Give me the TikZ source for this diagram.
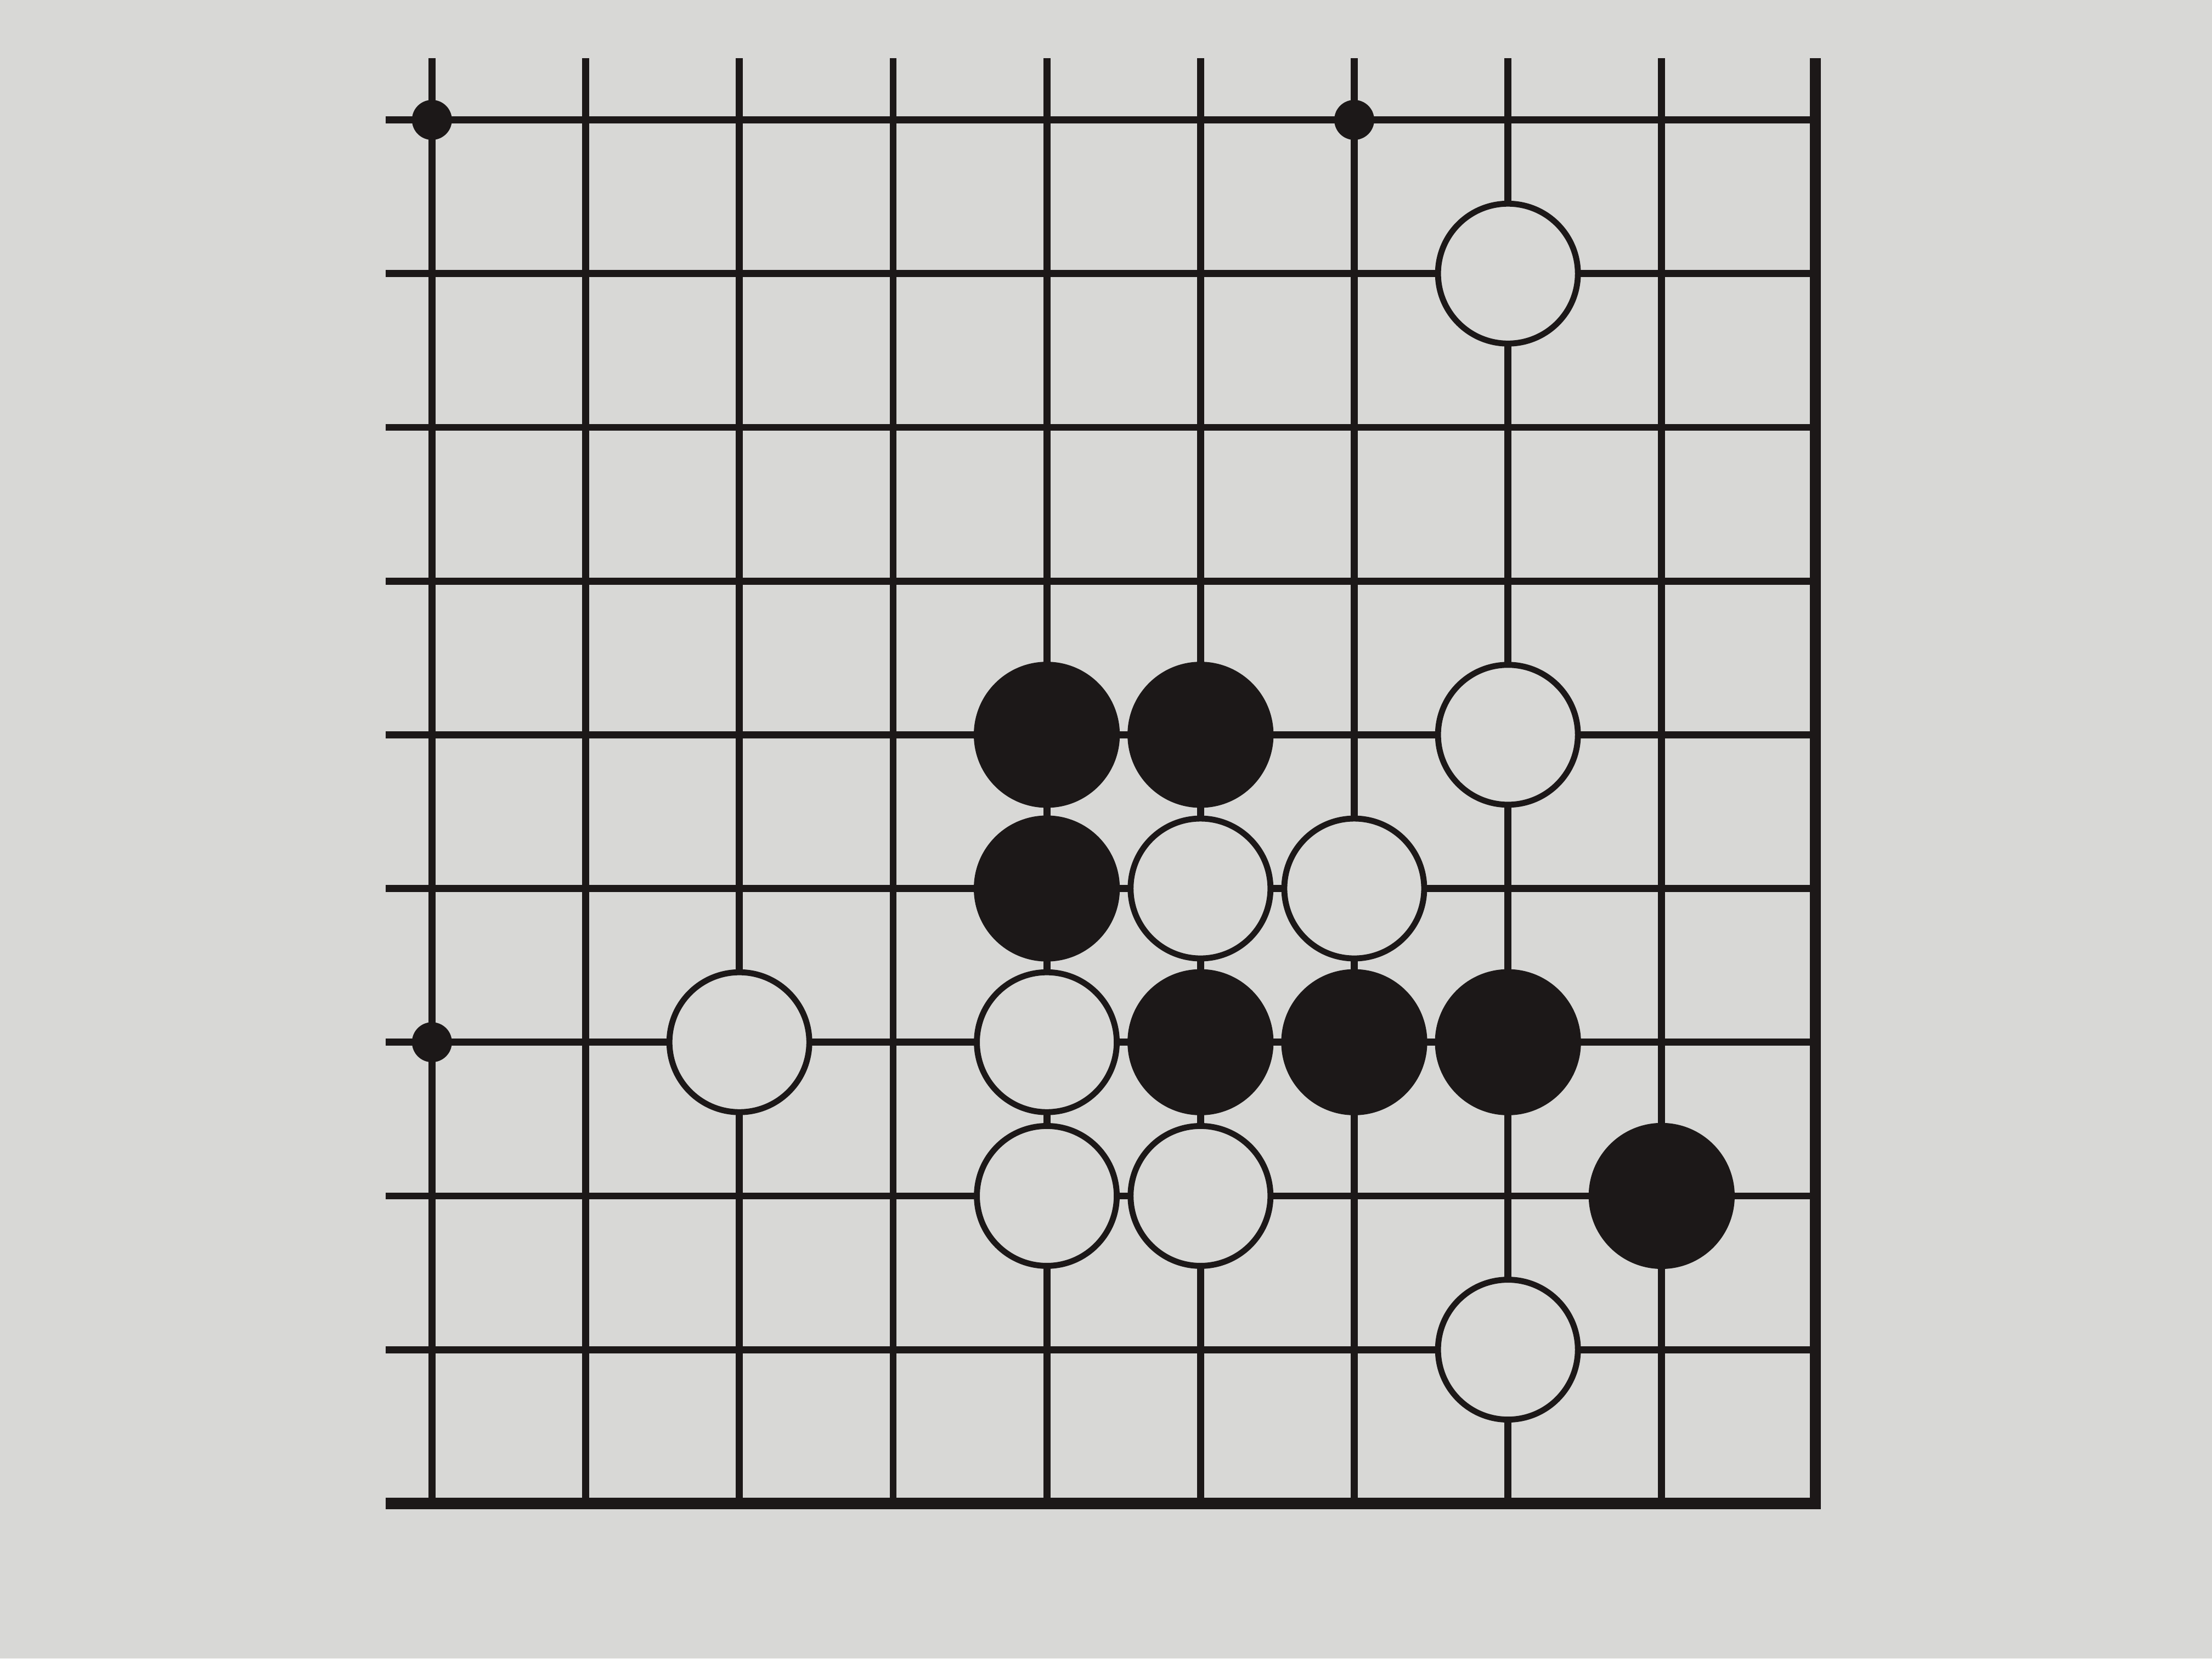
\documentclass[tikz,border=0pt]{standalone}
\usepackage{xcolor}
\usepackage{tikz}
\usetikzlibrary{positioning}
\definecolor{gpaper}{HTML}{D8D8D6}
\definecolor{gink}{HTML}{1C1818}
\tikzset{
  gline/.style={gink, line width=1.3pt},
  gedge/.style={gink, line width=2.1pt},
  gblack/.style={circle, fill=gink, minimum size=9.5mm, inner sep=0pt},
  gwhite/.style={circle, draw=gink, fill=gpaper, line width=1.1pt,
                 minimum size=9.1mm, inner sep=0pt},
  gstar/.style={circle, fill=gink, minimum size=2.6mm, inner sep=0pt},
}
\begin{document}
\begin{tikzpicture}[x=1cm,y=1cm]

  % paper
  \fill[gpaper] (-2.81,0.78) rectangle (11.58,-10.01);

  % open grid lines (top and left run off the diagram)
  \foreach \c in {0,...,8}
    \draw[gline] (\c,0.4) -- (\c,-9);
  \foreach \r in {0,...,8}
    \draw[gline] (-0.3,-\r) -- (9,-\r);

  % board edges: bottom and right
  \draw[gedge] (-0.3,-9) -- (9,-9) -- (9,0.4);

  % star points
  \foreach \c/\r in {0/0, 6/0, 0/6}
    \node[gstar] (s\c\r) at (\c,-\r) {};

  % black stones
  \foreach \c/\r in {4/4, 5/4, 4/5, 5/6, 6/6, 7/6, 8/7}
    \node[gblack] (b\c\r) at (\c,-\r) {};

  % white stones
  \foreach \c/\r in {7/1, 7/4, 5/5, 6/5, 2/6, 4/6, 4/7, 5/7, 7/8}
    \node[gwhite] (w\c\r) at (\c,-\r) {};

\end{tikzpicture}
\end{document}
